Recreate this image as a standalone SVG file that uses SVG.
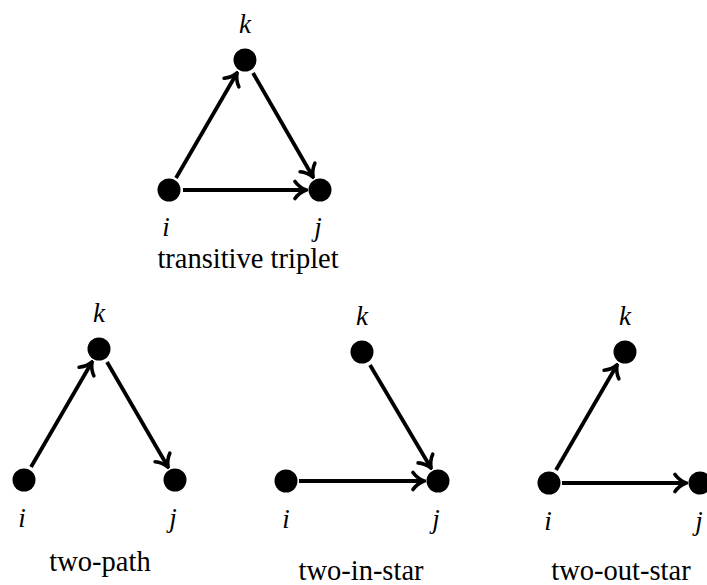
<svg xmlns="http://www.w3.org/2000/svg" width="707" height="585" viewBox="0 0 707 585">
<defs>
<style>
.nd{fill:#000}
.lb{font-style:italic;font-size:27px;fill:#000;text-anchor:middle}
.cap{font-size:28.5px;fill:#000;text-anchor:middle}
.ed{stroke:#000;stroke-width:3.8;fill:none;marker-end:url(#ah)}
</style>
<marker id="ah" markerUnits="userSpaceOnUse" viewBox="-15 -11 17 22" markerWidth="17" markerHeight="22" refX="0" refY="0" orient="auto">
<path d="M -11 -8.5 C -7.5 -3.5 -2.5 -1 0 0 C -2.5 1 -7.5 3.5 -11 8.5" fill="none" stroke="#000" stroke-width="3.6" stroke-linecap="round"/>
</marker>
</defs>
<rect width="707" height="585" fill="#fff"/>
<g id="connectors">
<line class="ed" x1="176" y1="178" x2="237" y2="73"/>
<line class="ed" x1="253" y1="73" x2="313" y2="177"/>
<line class="ed" x1="183" y1="190" x2="306" y2="190"/>
<line class="ed" x1="31" y1="467" x2="92" y2="362"/>
<line class="ed" x1="107" y1="362" x2="168" y2="467"/>
<line class="ed" x1="370" y1="365" x2="431" y2="468"/>
<line class="ed" x1="299" y1="481" x2="424" y2="481"/>
<line class="ed" x1="556" y1="470" x2="617" y2="365"/>
<line class="ed" x1="562" y1="483" x2="686" y2="483"/>
</g>
<g font-family="Liberation Serif, Tinos, Times New Roman, Noto Serif, DejaVu Serif, FreeSerif, serif">
<g id="transitive-triplet">
<g id="t-k"><circle class="nd" cx="245" cy="60" r="11.5"/><text class="lb" x="245" y="33">k</text></g>
<g id="t-i"><circle class="nd" cx="169" cy="190" r="11.5"/><text class="lb" x="166" y="236">i</text></g>
<g id="t-j"><circle class="nd" cx="320" cy="190" r="11.5"/><text class="lb" x="318" y="236">j</text></g>
<text class="cap" x="248" y="268">transitive triplet</text>
</g>
<g id="two-path">
<g id="p-k"><circle class="nd" cx="99" cy="349" r="11.5"/><text class="lb" x="99" y="322">k</text></g>
<g id="p-i"><circle class="nd" cx="24" cy="480" r="11.5"/><text class="lb" x="22" y="527">i</text></g>
<g id="p-j"><circle class="nd" cx="175" cy="480" r="11.5"/><text class="lb" x="173" y="527">j</text></g>
<text class="cap" x="100" y="571">two-path</text>
</g>
<g id="two-in-star">
<g id="s-k"><circle class="nd" cx="362" cy="352" r="11.5"/><text class="lb" x="362" y="325">k</text></g>
<g id="s-i"><circle class="nd" cx="286" cy="481" r="11.5"/><text class="lb" x="286" y="528">i</text></g>
<g id="s-j"><circle class="nd" cx="438" cy="481" r="11.5"/><text class="lb" x="436" y="528">j</text></g>
<text class="cap" x="361" y="580">two-in-star</text>
</g>
<g id="two-out-star">
<g id="o-k"><circle class="nd" cx="625" cy="352" r="11.5"/><text class="lb" x="625" y="325">k</text></g>
<g id="o-i"><circle class="nd" cx="549" cy="483" r="11.5"/><text class="lb" x="548" y="530">i</text></g>
<g id="o-j"><circle class="nd" cx="700" cy="483" r="11.5"/><text class="lb" x="699" y="530">j</text></g>
<text class="cap" x="621" y="580">two-out-star</text>
</g>
</g>
</svg>
